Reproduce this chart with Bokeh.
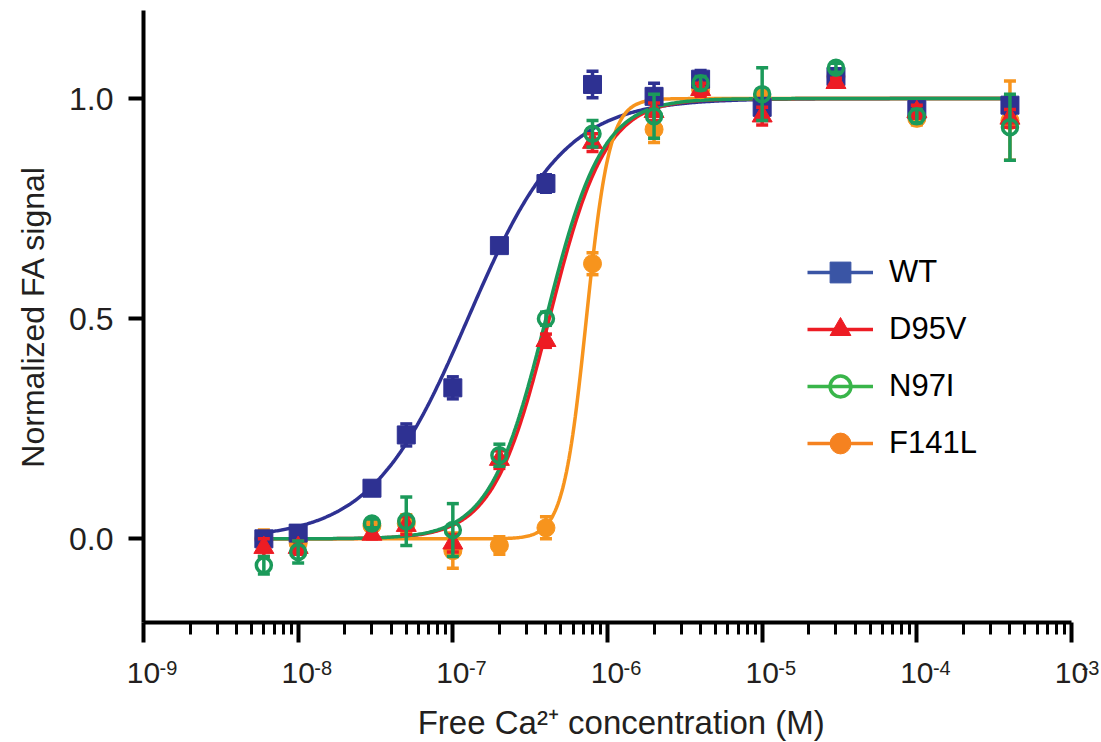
import numpy as np
from bokeh.plotting import figure
from bokeh.models import (Range1d, FixedTicker, CustomJSTickFormatter, PrintfTickFormatter,
                          Legend, LegendItem, ColumnDataSource, LogAxis)
from bokeh.embed import file_html
from bokeh.resources import INLINE

# ---------------- data ----------------
conc = [6e-9, 1e-8, 3e-8, 5e-8, 1e-7, 2e-7, 4e-7, 8e-7, 2e-6, 4e-6, 1e-5, 3e-5, 1e-4, 4e-4]

wt =       [0.000, 0.013, 0.115, 0.236, 0.343, 0.666, 0.807, 1.032, 1.005, 1.044, 0.980, 1.050, 0.975, 0.985]
wt_err =   [0.015, 0.010, 0.015, 0.025, 0.025, 0.010, 0.020, 0.030, 0.030, 0.020, 0.020, 0.010, 0.015, 0.020]

d95v =     [-0.020, -0.020, 0.010, 0.030, -0.010, 0.180, 0.450, 0.900, 0.970, 1.020, 0.960, 1.036, 0.970, 0.955]
d95v_err = [0.020, 0.015, 0.010, 0.020, 0.020, 0.020, 0.015, 0.020, 0.020, 0.015, 0.020, 0.010, 0.015, 0.020]

n97i =     [-0.060, -0.030, 0.035, 0.040, 0.020, 0.190, 0.500, 0.920, 0.960, 1.035, 1.010, 1.070, 0.960, 0.935]
n97i_err = [0.020, 0.025, 0.010, 0.055, 0.060, 0.025, 0.015, 0.030, 0.050, 0.015, 0.060, 0.010, 0.015, 0.075]

f141l =     [0.000, -0.010, 0.030, 0.035, -0.027, -0.015, 0.025, 0.625, 0.930, 1.020, 1.000, 1.050, 0.955, 0.950]
f141l_err = [0.020, 0.015, 0.010, 0.020, 0.040, 0.020, 0.025, 0.025, 0.030, 0.015, 0.020, 0.010, 0.015, 0.090]

# Hill-fit parameters (EC50 in M, Hill slope)
fits = {
    "WT":    (1.25e-7, 1.4),
    "D95V":  (4.2e-7, 2.4),
    "N97I":  (4.0e-7, 2.4),
    "F141L": (7.3e-7, 5.8),
}

names = ["WT", "D95V", "N97I", "F141L"]
plot_colors = {"WT": "#2E3192", "D95V": "#ED1C24", "N97I": "#1B9A5A", "F141L": "#F7941D"}
legend_colors = {"WT": "#3A55A5", "D95V": "#ED1C24", "N97I": "#39B54A", "F141L": "#F58220"}
values = {"WT": (wt, wt_err), "D95V": (d95v, d95v_err), "N97I": (n97i, n97i_err), "F141L": (f141l, f141l_err)}

x_ticks = [1e-9, 1e-8, 1e-7, 1e-6, 1e-5, 1e-4, 1e-3]
x_tick_exp = ["-9", "-8", "-7", "-6", "-5", "-4", "-3"]
y_ticks = [0.0, 0.5, 1.0]

x_title = "Free Ca\u00B2\u207A concentration (M)"
y_title = "Normalized FA signal"

FONT = "Liberation Sans"
TXT = "#231F20"
NB = "\u00A0"

# ---------------- figure ----------------
p = figure(x_axis_type="log", x_range=Range1d(1e-9, 1e-3), y_range=Range1d(-0.19, 1.2),
           frame_width=928, frame_height=612, output_backend="svg", toolbar_location=None,
           min_border_left=143, min_border_top=10, min_border_right=28, min_border_bottom=0,
           background_fill_color="white", border_fill_color="white", outline_line_color=None)
p.grid.visible = False

minor = []
for e in range(-9, -3):
    for k in range(2, 10):
        minor.append(k * 10.0 ** e)

# main x axis: ticks and the "10" part of the labels
p.xaxis.ticker = FixedTicker(ticks=x_ticks, minor_ticks=minor)
p.xaxis.formatter = CustomJSTickFormatter(code="return '10';")
p.yaxis.ticker = FixedTicker(ticks=y_ticks)
p.yaxis.formatter = PrintfTickFormatter(format="%.1f")

for ax in (p.xaxis[0], p.yaxis[0]):
    ax.axis_line_width = 4
    ax.axis_line_color = "black"
    ax.major_tick_line_width = 4
    ax.major_tick_line_color = "black"
    ax.major_tick_in = 0
    ax.minor_tick_in = 0
    ax.major_label_text_font = FONT
    ax.major_label_text_color = TXT
    ax.axis_label_text_font = FONT
    ax.axis_label_text_font_style = "normal"
    ax.axis_label_text_color = TXT

p.xaxis.major_tick_out = 20
p.xaxis.minor_tick_out = 12
p.xaxis.minor_tick_line_width = 3
p.xaxis.minor_tick_line_color = "black"
p.xaxis.major_label_text_font_size = "30px"
p.xaxis.major_label_standoff = 20

p.yaxis.major_tick_out = 15
p.yaxis.minor_tick_out = 0
p.yaxis.major_label_text_font_size = "32px"
p.yaxis.major_label_standoff = 15
p.yaxis.axis_label = y_title
p.yaxis.axis_label_text_font_size = "32px"
p.yaxis.axis_label_standoff = 15

# second x axis: the raised exponents (padded so they sit right of the "10"), and the axis title
exp_axis = LogAxis(
    ticker=FixedTicker(ticks=x_ticks),
    formatter=CustomJSTickFormatter(args=dict(tvals=x_ticks, exps=x_tick_exp, pad=NB * 9), code="""
const e = Math.round(Math.log10(tick));
for (let i = 0; i < tvals.length; i++) {
  if (Math.round(Math.log10(tvals[i])) == e) return pad + exps[i];
}
return '';
"""),
    axis_line_color=None, major_tick_line_color=None, minor_tick_line_color=None,
    major_tick_out=0, major_tick_in=0, minor_tick_out=0, minor_tick_in=0,
    major_label_text_font=FONT, major_label_text_font_size="20px", major_label_text_color=TXT,
    major_label_standoff=-29,
    axis_label=NB * 3 + x_title, axis_label_text_font=FONT, axis_label_text_font_size="33px",
    axis_label_text_font_style="normal", axis_label_text_color=TXT, axis_label_standoff=22)
p.add_layout(exp_axis, "below")

# ---------------- curves ----------------
xs_fit = np.logspace(np.log10(conc[0]), np.log10(conc[-1]), 600)
for nm in ["WT", "D95V", "F141L", "N97I"]:
    ec50, nh = fits[nm]
    yfit = 1.0 / (1.0 + (ec50 / xs_fit) ** nh)
    p.line(xs_fit, yfit, line_color=plot_colors[nm], line_width=3.5)

# ---------------- points + error bars ----------------
markers = {"WT": "square", "D95V": "triangle", "N97I": "circle", "F141L": "circle"}
sizes = {"WT": 18, "D95V": 20, "N97I": 15, "F141L": 18}
for nm in ["F141L", "WT", "D95V", "N97I"]:
    yv, ye = values[nm]
    yv = np.array(yv); ye = np.array(ye)
    src = ColumnDataSource(dict(x=conc, y=yv, lo=yv - ye, hi=yv + ye))
    c = plot_colors[nm]
    p.segment(x0="x", y0="lo", x1="x", y1="hi", source=src, line_color=c, line_width=3.5)
    p.scatter(x="x", y="hi", source=src, marker="dash", size=12, line_color=c, line_width=3.5)
    p.scatter(x="x", y="lo", source=src, marker="dash", size=12, line_color=c, line_width=3.5)
    if nm == "N97I":
        p.scatter(x="x", y="y", source=src, marker="circle", size=sizes[nm],
                  fill_alpha=0, line_color=c, line_width=3.5)
    else:
        p.scatter(x="x", y="y", source=src, marker=markers[nm], size=sizes[nm],
                  fill_color=c, line_color=c, line_width=1)

# ---------------- legend ----------------
items = []
for nm in names:
    lc = legend_colors[nm]
    lr = p.line([np.nan], [np.nan], line_color=lc, line_width=3.5)
    if nm == "N97I":
        mr = p.scatter([np.nan], [np.nan], marker="circle", size=18, fill_alpha=0,
                       line_color=lc, line_width=3.5)
    else:
        mr = p.scatter([np.nan], [np.nan], marker=markers[nm], size=21,
                       fill_color=lc, line_color=lc, line_width=1)
    items.append(LegendItem(label=nm, renderers=[lr, mr]))

legend = Legend(items=items, location=(664, 153), padding=0, margin=0,
                glyph_width=66, glyph_height=52, label_height=52, spacing=5,
                label_standoff=16, label_text_font=FONT, label_text_font_size="31px",
                label_text_color="black", border_line_alpha=0, background_fill_alpha=0)
p.add_layout(legend, "center")

open("out.html", "w").write(file_html(p, INLINE))
